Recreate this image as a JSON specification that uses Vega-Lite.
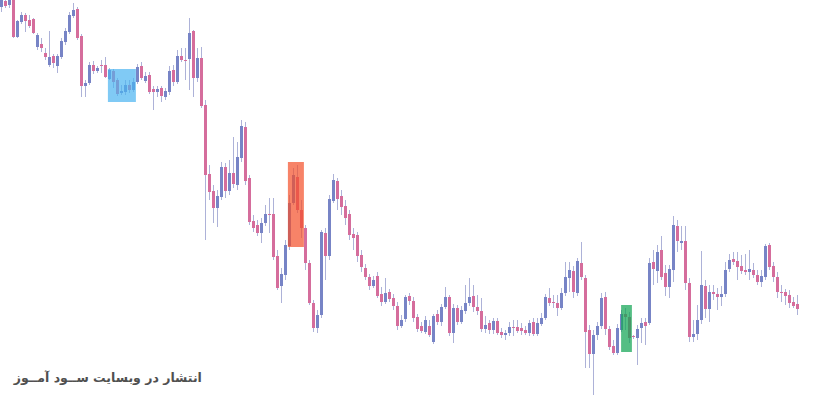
{
  "$schema": "https://vega.github.io/schema/vega-lite/v6.json",
  "width": 814,
  "height": 401,
  "autosize": {"type": "fit", "contains": "padding"},
  "padding": 0,
  "background": "#ffffff",
  "config": {"view": {"stroke": null}},
  "datasets": {
    "candles": [
      {"i":0,"o":393,"h":403,"l":388,"c":400},{"i":1,"o":399,"h":400,"l":392,"c":394},{"i":2,"o":395,"h":402,"l":392,"c":400},{"i":3,"o":400,"h":402,"l":362,"c":363},{"i":4,"o":363,"h":380,"l":362,"c":379},
      {"i":5,"o":378,"h":388,"l":376,"c":385},{"i":6,"o":385,"h":387,"l":368,"c":379},{"i":7,"o":380,"h":385,"l":372,"c":374},{"i":8,"o":381,"h":382,"l":366,"c":367},{"i":9,"o":353,"h":367,"l":350,"c":365},
      {"i":10,"o":356,"h":362,"l":348,"c":352},{"i":11,"o":347,"h":352,"l":340,"c":343},{"i":12,"o":335,"h":369,"l":333,"c":343},{"i":13,"o":344,"h":346,"l":332,"c":337},{"i":14,"o":334,"h":346,"l":327,"c":344},
      {"i":15,"o":343,"h":362,"l":341,"c":359},{"i":16,"o":358,"h":372,"l":355,"c":369},{"i":17,"o":368,"h":388,"l":366,"c":385},{"i":18,"o":384,"h":397,"l":382,"c":390},{"i":19,"o":391,"h":393,"l":360,"c":362},
      {"i":20,"o":364,"h":366,"l":303,"c":314},{"i":21,"o":314,"h":320,"l":303,"c":317},{"i":22,"o":317,"h":338,"l":315,"c":335},{"i":23,"o":335,"h":339,"l":326,"c":329},{"i":24,"o":329,"h":334,"l":327,"c":332},
      {"i":25,"o":335,"h":340,"l":327,"c":334},{"i":26,"o":335,"h":343,"l":322,"c":323},{"i":27,"o":321,"h":332,"l":320,"c":330},{"i":28,"o":329,"h":331,"l":312,"c":318},{"i":29,"o":320,"h":322,"l":304,"c":306},
      {"i":30,"o":307,"h":315,"l":305,"c":309},{"i":31,"o":308,"h":320,"l":305,"c":315},{"i":32,"o":315,"h":320,"l":307,"c":310},{"i":33,"o":310,"h":322,"l":308,"c":318},{"i":34,"o":318,"h":336,"l":316,"c":333},
      {"i":35,"o":334,"h":338,"l":320,"c":322},{"i":36,"o":319,"h":328,"l":317,"c":324},{"i":37,"o":325,"h":328,"l":306,"c":308},{"i":38,"o":311,"h":314,"l":290,"c":308},{"i":39,"o":308,"h":314,"l":303,"c":311},
      {"i":40,"o":312,"h":314,"l":298,"c":304},{"i":41,"o":303,"h":312,"l":300,"c":309},{"i":42,"o":308,"h":334,"l":305,"c":329},{"i":43,"o":330,"h":335,"l":314,"c":318},{"i":44,"o":318,"h":350,"l":316,"c":344},
      {"i":45,"o":344,"h":352,"l":338,"c":340},{"i":46,"o":340,"h":352,"l":320,"c":339},{"i":47,"o":341,"h":382,"l":310,"c":367},{"i":48,"o":369,"h":370,"l":303,"c":322},{"i":49,"o":322,"h":352,"l":318,"c":342},
      {"i":50,"o":342,"h":353,"l":292,"c":294},{"i":51,"o":295,"h":300,"l":160,"c":225},{"i":52,"o":226,"h":235,"l":200,"c":208},{"i":53,"o":209,"h":215,"l":177,"c":192},{"i":54,"o":192,"h":210,"l":173,"c":204},
      {"i":55,"o":203,"h":238,"l":200,"c":233},{"i":56,"o":233,"h":237,"l":202,"c":209},{"i":57,"o":209,"h":240,"l":205,"c":227},{"i":58,"o":227,"h":263,"l":212,"c":216},{"i":59,"o":215,"h":258,"l":210,"c":243},
      {"i":60,"o":242,"h":280,"l":238,"c":274},{"i":61,"o":273,"h":278,"l":215,"c":219},{"i":62,"o":222,"h":225,"l":175,"c":178},{"i":63,"o":179,"h":185,"l":168,"c":172},{"i":64,"o":175,"h":180,"l":164,"c":167},
      {"i":65,"o":167,"h":182,"l":157,"c":177},{"i":66,"o":177,"h":195,"l":174,"c":186},{"i":67,"o":186,"h":202,"l":167,"c":185},{"i":68,"o":186,"h":202,"l":140,"c":143},{"i":69,"o":144,"h":150,"l":110,"c":112},
      {"i":70,"o":114,"h":132,"l":97,"c":126},{"i":71,"o":125,"h":160,"l":120,"c":155},{"i":72,"o":154,"h":205,"l":150,"c":197},{"i":73,"o":197,"h":232,"l":195,"c":225},{"i":74,"o":223,"h":235,"l":187,"c":190},
      {"i":75,"o":190,"h":200,"l":162,"c":172},{"i":76,"o":172,"h":175,"l":130,"c":137},{"i":77,"o":137,"h":140,"l":95,"c":97},{"i":78,"o":97,"h":100,"l":68,"c":72},{"i":79,"o":72,"h":90,"l":67,"c":85},
      {"i":80,"o":85,"h":170,"l":82,"c":168},{"i":81,"o":167,"h":172,"l":120,"c":144},{"i":82,"o":144,"h":205,"l":140,"c":201},{"i":83,"o":199,"h":226,"l":197,"c":220},{"i":84,"o":219,"h":222,"l":190,"c":201},
      {"i":85,"o":204,"h":210,"l":185,"c":193},{"i":86,"o":194,"h":200,"l":175,"c":182},{"i":87,"o":186,"h":190,"l":160,"c":165},{"i":88,"o":166,"h":172,"l":150,"c":162},{"i":89,"o":165,"h":168,"l":138,"c":144},
      {"i":90,"o":145,"h":150,"l":128,"c":133},{"i":91,"o":132,"h":136,"l":120,"c":123},{"i":92,"o":123,"h":126,"l":110,"c":114},{"i":93,"o":114,"h":124,"l":112,"c":120},{"i":94,"o":124,"h":128,"l":102,"c":104},
      {"i":95,"o":106,"h":113,"l":94,"c":98},{"i":96,"o":98,"h":122,"l":96,"c":107},{"i":97,"o":108,"h":111,"l":98,"c":101},{"i":98,"o":102,"h":106,"l":90,"c":94},{"i":99,"o":94,"h":98,"l":70,"c":74},
      {"i":100,"o":74,"h":85,"l":72,"c":80},{"i":101,"o":81,"h":105,"l":78,"c":103},{"i":102,"o":104,"h":107,"l":95,"c":99},{"i":103,"o":99,"h":103,"l":78,"c":82},{"i":104,"o":83,"h":86,"l":68,"c":71},
      {"i":105,"o":74,"h":78,"l":67,"c":69},{"i":106,"o":68,"h":84,"l":66,"c":80},{"i":107,"o":74,"h":80,"l":63,"c":65},{"i":108,"o":58,"h":86,"l":56,"c":84},{"i":109,"o":86,"h":90,"l":75,"c":78},
      {"i":110,"o":78,"h":96,"l":74,"c":93},{"i":111,"o":93,"h":113,"l":91,"c":103},{"i":112,"o":103,"h":105,"l":64,"c":67},{"i":113,"o":67,"h":96,"l":57,"c":92},{"i":114,"o":92,"h":95,"l":75,"c":78},
      {"i":115,"o":78,"h":94,"l":76,"c":90},{"i":116,"o":89,"h":115,"l":86,"c":97},{"i":117,"o":97,"h":122,"l":94,"c":103},{"i":118,"o":104,"h":115,"l":88,"c":93},{"i":119,"o":93,"h":105,"l":85,"c":89},
      {"i":120,"o":89,"h":102,"l":68,"c":71},{"i":121,"o":71,"h":84,"l":67,"c":75},{"i":122,"o":77,"h":80,"l":66,"c":70},{"i":123,"o":70,"h":82,"l":66,"c":79},{"i":124,"o":79,"h":82,"l":65,"c":67},
      {"i":125,"o":68,"h":72,"l":62,"c":65},{"i":126,"o":65,"h":70,"l":60,"c":67},{"i":127,"o":67,"h":78,"l":64,"c":73},{"i":128,"o":73,"h":80,"l":64,"c":72},{"i":129,"o":73,"h":80,"l":67,"c":69},
      {"i":130,"o":72,"h":77,"l":65,"c":69},{"i":131,"o":70,"h":74,"l":65,"c":67},{"i":132,"o":67,"h":80,"l":64,"c":77},{"i":133,"o":78,"h":82,"l":64,"c":66},{"i":134,"o":66,"h":82,"l":64,"c":77},
      {"i":135,"o":76,"h":87,"l":74,"c":82},{"i":136,"o":82,"h":106,"l":80,"c":103},{"i":137,"o":102,"h":112,"l":94,"c":97},{"i":138,"o":98,"h":105,"l":92,"c":97},{"i":139,"o":97,"h":105,"l":84,"c":92},
      {"i":140,"o":92,"h":112,"l":90,"c":107},{"i":141,"o":107,"h":138,"l":104,"c":123},{"i":142,"o":122,"h":138,"l":108,"c":130},{"i":143,"o":129,"h":134,"l":102,"c":108},{"i":144,"o":107,"h":142,"l":104,"c":139},
      {"i":145,"o":137,"h":158,"l":120,"c":123},{"i":146,"o":122,"h":125,"l":32,"c":68},{"i":147,"o":70,"h":75,"l":32,"c":46},{"i":148,"o":46,"h":70,"l":5,"c":65},{"i":149,"o":65,"h":78,"l":60,"c":74},
      {"i":150,"o":74,"h":107,"l":71,"c":102},{"i":151,"o":103,"h":108,"l":65,"c":71},{"i":152,"o":71,"h":74,"l":50,"c":53},{"i":153,"o":54,"h":60,"l":45,"c":47},{"i":154,"o":47,"h":76,"l":45,"c":72},
      {"i":155,"o":70,"h":90,"l":68,"c":86},{"i":156,"o":86,"h":92,"l":70,"c":83},{"i":157,"o":83,"h":88,"l":57,"c":62},{"i":158,"o":64,"h":65,"l":61,"c":63},{"i":159,"o":62,"h":75,"l":35,"c":71},
      {"i":160,"o":72,"h":82,"l":57,"c":77},{"i":161,"o":78,"h":82,"l":55,"c":74},{"i":162,"o":77,"h":142,"l":75,"c":137},{"i":163,"o":138,"h":150,"l":115,"c":131},{"i":164,"o":129,"h":155,"l":117,"c":148},
      {"i":165,"o":150,"h":164,"l":120,"c":123},{"i":166,"o":127,"h":135,"l":104,"c":113},{"i":167,"o":113,"h":135,"l":102,"c":131},{"i":168,"o":130,"h":184,"l":118,"c":175},{"i":169,"o":174,"h":180,"l":148,"c":159},
      {"i":170,"o":157,"h":174,"l":150,"c":159},{"i":171,"o":159,"h":174,"l":110,"c":117},{"i":172,"o":117,"h":122,"l":58,"c":63},{"i":173,"o":63,"h":80,"l":58,"c":66},{"i":174,"o":66,"h":95,"l":60,"c":80},
      {"i":175,"o":80,"h":149,"l":76,"c":115},{"i":176,"o":114,"h":120,"l":82,"c":91},{"i":177,"o":91,"h":115,"l":78,"c":108},{"i":178,"o":108,"h":115,"l":100,"c":106},{"i":179,"o":106,"h":112,"l":90,"c":103},
      {"i":180,"o":103,"h":114,"l":94,"c":106},{"i":181,"o":106,"h":138,"l":103,"c":130},{"i":182,"o":131,"h":146,"l":128,"c":140},{"i":183,"o":141,"h":148,"l":135,"c":138},{"i":184,"o":139,"h":148,"l":120,"c":133},
      {"i":185,"o":134,"h":145,"l":126,"c":129},{"i":186,"o":130,"h":146,"l":125,"c":128},{"i":187,"o":128,"h":150,"l":120,"c":131},{"i":188,"o":130,"h":137,"l":122,"c":125},{"i":189,"o":125,"h":130,"l":115,"c":118},
      {"i":190,"o":118,"h":130,"l":113,"c":124},{"i":191,"o":123,"h":156,"l":120,"c":154},{"i":192,"o":155,"h":157,"l":130,"c":133},{"i":193,"o":134,"h":138,"l":118,"c":123},{"i":194,"o":123,"h":128,"l":102,"c":108},
      {"i":195,"o":108,"h":115,"l":98,"c":107},{"i":196,"o":108,"h":111,"l":95,"c":104},{"i":197,"o":105,"h":110,"l":92,"c":97},{"i":198,"o":98,"h":103,"l":92,"c":94},{"i":199,"o":96,"h":105,"l":85,"c":91}
    ],
    "zones": [
      {"zone":"blue","x1":26.6,"x2":33.6,"top":331,"bottom":298},
      {"zone":"orange","x1":71.6,"x2":75.6,"top":238,"bottom":153},
      {"zone":"green","x1":154.9,"x2":157.6,"top":95,"bottom":48}
    ],
    "label": [
      {"text":"انتشار در وبسایت ســود آمــوز","i":50.1,"p":22}
    ]
  },
  "layer": [
    {
      "data": {"name": "candles"},
      "mark": {"type": "rule", "color": "#adb2d8", "strokeWidth": 1, "clip": true},
      "encoding": {
        "x": {"field": "i", "type": "quantitative", "scale": {"domain": [-0.375, 203.125], "nice": false, "zero": false, "padding": 0}, "axis": null},
        "y": {"field": "l", "type": "quantitative", "scale": {"domain": [-1, 400], "nice": false, "zero": false, "padding": 0}, "axis": null},
        "y2": {"field": "h"}
      }
    },
    {
      "data": {"name": "candles"},
      "mark": {"type": "bar", "width": 3, "clip": true},
      "encoding": {
        "x": {"field": "i", "type": "quantitative"},
        "y": {"field": "o", "type": "quantitative"},
        "y2": {"field": "c"},
        "color": {"condition": {"test": "datum.c > datum.o", "value": "#7784c6"}, "value": "#d56d9c"}
      }
    },
    {
      "data": {"name": "zones"},
      "mark": {"type": "rect", "clip": true},
      "encoding": {
        "x": {"field": "x1", "type": "quantitative"},
        "x2": {"field": "x2"},
        "y": {"field": "top", "type": "quantitative"},
        "y2": {"field": "bottom"},
        "color": {"field": "zone", "type": "nominal", "scale": {"domain": ["blue", "orange", "green"], "range": ["#4ab3f1", "#f4502a", "#12a555"]}, "legend": null},
        "opacity": {"field": "zone", "type": "nominal", "scale": {"domain": ["blue", "orange", "green"], "range": [0.7, 0.72, 0.85]}, "legend": null}
      }
    },
    {
      "data": {"name": "label"},
      "mark": {"type": "text", "align": "right", "baseline": "middle", "font": "DejaVu Sans", "fontSize": 12.5, "fontWeight": "bold", "color": "#505050"},
      "encoding": {
        "x": {"field": "i", "type": "quantitative"},
        "y": {"field": "p", "type": "quantitative"},
        "text": {"field": "text"}
      }
    }
  ]
}
